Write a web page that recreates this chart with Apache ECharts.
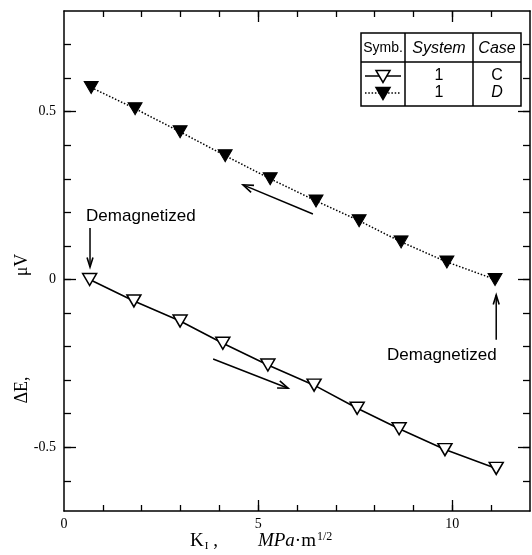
<!DOCTYPE html>
<html><head><meta charset="utf-8">
<script src="https://cdn.jsdelivr.net/npm/echarts@6/dist/echarts.min.js"></script>
<style>html,body{margin:0;padding:0;background:#fff}#c{width:532px;height:555px}</style>
</head><body><div id="c"></div>
<script>
// ---- data ----
const kC = [0.66, 1.80, 2.99, 4.09, 5.25, 6.44, 7.55, 8.63, 9.81, 11.13];
const dEC = [0, -0.064, -0.124, -0.19, -0.255, -0.315, -0.384, -0.445, -0.507, -0.563];
const kD = [0.70, 1.83, 2.99, 4.15, 5.31, 6.49, 7.60, 8.68, 9.86, 11.10];
const dED = [0.572, 0.509, 0.440, 0.369, 0.300, 0.234, 0.175, 0.112, 0.052, 0];
const xTickLabels = [0, 5, 10];
const xMinorTicks = [1, 2, 3, 4, 5, 6, 7, 8, 9, 10, 11];
const yTickLabels = [-0.5, 0, 0.5];
const yMinorTicks = [-0.6, -0.5, -0.4, -0.3, -0.2, -0.1, 0, 0.1, 0.2, 0.3, 0.4, 0.5, 0.6, 0.7];
const legendRows = [['1', 'C'], ['1', 'D']];
const legendHeader = ['Symb.', 'System', 'Case'];
const annotText = 'Demagnetized';

const chart = echarts.init(document.getElementById('c'), null, {renderer: 'canvas'});
const black = '#000';
const serif = '"Liberation Serif", "DejaVu Serif", serif';
const sans = '"Liberation Sans", Arial, sans-serif';
const XMIN = 0, XMAX = 12, YMIN = -0.69, YMAX = 0.8;

function xAx(pos, ticks, len, labels, line) {
  return {
    type: 'value', position: pos, min: XMIN, max: XMAX,
    axisLine: {show: line, onZero: false, lineStyle: {color: black, width: 1.5}},
    axisTick: {show: true, inside: true, length: len, customValues: ticks, lineStyle: {color: black, width: 1.3}},
    axisLabel: labels ? {show: true, customValues: labels, color: black, fontFamily: serif, fontSize: 14, margin: 6} : {show: false},
    splitLine: {show: false}
  };
}
function yAx(pos, ticks, len, labels, line) {
  return {
    type: 'value', position: pos, min: YMIN, max: YMAX,
    axisLine: {show: line, onZero: false, lineStyle: {color: black, width: 1.5}},
    axisTick: {show: true, inside: true, length: len, customValues: ticks, lineStyle: {color: black, width: 1.3}},
    axisLabel: labels ? {show: true, customValues: labels, color: black, fontFamily: serif, fontSize: 14, margin: 8,
      formatter: v => (Math.abs(v) < 1e-9 ? '0' : v.toFixed(1))} : {show: false},
    splitLine: {show: false}
  };
}

chart.setOption({
  animation: false,
  backgroundColor: '#fff',
  grid: {left: 64, right: 2, top: 11, bottom: 44},
  xAxis: [
    xAx('bottom', xMinorTicks, 6, xTickLabels, true),
    xAx('bottom', [5, 10], 11, null, false),
    xAx('top', xMinorTicks, 6, null, true),
    xAx('top', [5, 10], 11, null, false)
  ],
  yAxis: [
    yAx('left', yMinorTicks, 7, yTickLabels, true),
    yAx('left', yTickLabels, 12, null, false),
    yAx('right', yMinorTicks, 7, null, true),
    yAx('right', yTickLabels, 12, null, false)
  ],
  series: [
    {
      name: 'C', type: 'line', xAxisIndex: 0, yAxisIndex: 0,
      data: kC.map((x, i) => [x, dEC[i]]),
      symbol: 'triangle', symbolRotate: 180, symbolSize: [14, 12], showAllSymbol: true,
      itemStyle: {color: '#fff', borderColor: black, borderWidth: 1.5},
      lineStyle: {color: black, width: 1.6}, z: 5
    },
    {
      name: 'D', type: 'line', xAxisIndex: 0, yAxisIndex: 0,
      data: kD.map((x, i) => [x, dED[i]]),
      symbol: 'triangle', symbolRotate: 180, symbolSize: [14, 12], showAllSymbol: true,
      itemStyle: {color: black, borderColor: black, borderWidth: 1},
      lineStyle: {color: black, width: 1.5, type: [1.5, 1.8]}, z: 5
    }
  ]
});

// ---- annotations ----
const P = (x, y) => chart.convertToPixel({xAxisIndex: 0, yAxisIndex: 0}, [x, y]);
function arrow(tail, tip, headLen, ang) {
  const a = P(tail[0], tail[1]), b = P(tip[0], tip[1]);
  const th = Math.atan2(b[1] - a[1], b[0] - a[0]);
  const h1 = [b[0] - headLen * Math.cos(th - ang), b[1] - headLen * Math.sin(th - ang)];
  const h2 = [b[0] - headLen * Math.cos(th + ang), b[1] - headLen * Math.sin(th + ang)];
  return [
    {type: 'line', shape: {x1: a[0], y1: a[1], x2: b[0], y2: b[1]}, style: {stroke: black, lineWidth: 1.5}, z: 10},
    {type: 'polyline', shape: {points: [h1, b, h2]}, style: {stroke: black, lineWidth: 1.6, fill: null}, z: 10}
  ];
}
function label(txt, x, y) {
  const p = P(x, y);
  return {type: 'text', x: p[0], y: p[1], z: 10,
    style: {text: txt, font: '17px ' + sans, fill: black, align: 'center', verticalAlign: 'middle'}};
}
const g = [];
g.push(...arrow([0.67, 0.153], [0.67, 0.037], 10, 0.3));
g.push(label(annotText, 1.98, 0.187));
g.push(...arrow([11.13, -0.18], [11.13, -0.046], 10, 0.3));
g.push(label(annotText, 9.73, -0.225));
g.push(...arrow([6.41, 0.195], [4.61, 0.282], 11, 0.35));
g.push(...arrow([3.84, -0.237], [5.77, -0.324], 11, 0.35));

// ---- legend table ----
const Lx = [361, 405, 473, 521], Ly = [33, 62, 106];
const rowY = [76, 93];
g.push({type: 'rect', shape: {x: Lx[0], y: Ly[0], width: Lx[3] - Lx[0], height: Ly[2] - Ly[0]},
  style: {fill: '#fff', stroke: black, lineWidth: 1.5}, z: 20});
g.push({type: 'line', shape: {x1: Lx[0], y1: Ly[1], x2: Lx[3], y2: Ly[1]}, style: {stroke: black, lineWidth: 1.5}, z: 21});
g.push({type: 'line', shape: {x1: Lx[1], y1: Ly[0], x2: Lx[1], y2: Ly[2]}, style: {stroke: black, lineWidth: 1.5}, z: 21});
g.push({type: 'line', shape: {x1: Lx[2], y1: Ly[0], x2: Lx[2], y2: Ly[2]}, style: {stroke: black, lineWidth: 1.5}, z: 21});
const colC = [(Lx[0] + Lx[1]) / 2, (Lx[1] + Lx[2]) / 2, (Lx[2] + Lx[3]) / 2];
const headStyle = ['normal 14px ', 'italic 16px ', 'italic 16px '];
legendHeader.forEach((t, i) => g.push({type: 'text', x: colC[i], y: (Ly[0] + Ly[1]) / 2 + 1, z: 22,
  style: {text: t, font: headStyle[i] + sans, fill: black, align: 'center', verticalAlign: 'middle'}}));
legendRows.forEach((r, i) => {
  const y = rowY[i];
  g.push({type: 'line', shape: {x1: Lx[0] + 4, y1: y, x2: Lx[1] - 4, y2: y},
    style: {stroke: black, lineWidth: 1.5, lineDash: i === 0 ? null : [1.5, 1.8]}, z: 22});
  const cx = colC[0];
  g.push({type: 'polygon', shape: {points: [[cx - 7, y - 5.5], [cx + 7, y - 5.5], [cx, y + 6.5]]},
    style: {fill: i === 0 ? '#fff' : black, stroke: black, lineWidth: 1.5}, z: 23});
  g.push({type: 'text', x: colC[1], y: y, z: 22,
    style: {text: r[0], font: '16px ' + sans, fill: black, align: 'center', verticalAlign: 'middle'}});
  g.push({type: 'text', x: colC[2], y: y, z: 22,
    style: {text: r[1], font: (i === 0 ? 'normal' : 'italic') + ' 16px ' + sans, fill: black, align: 'center', verticalAlign: 'middle'}});
});

// ---- axis titles ----
g.push({type: 'text', x: 22, y: 390, rotation: Math.PI / 2, z: 10,
  style: {text: 'ΔE,', font: '18px ' + serif, fill: black, align: 'center', verticalAlign: 'middle'}});
g.push({type: 'text', x: 22, y: 265, rotation: Math.PI / 2, z: 10,
  style: {text: 'μV', font: '18px ' + serif, fill: black, align: 'center', verticalAlign: 'middle'}});
g.push({type: 'text', x: 190, y: 541, z: 10,
  style: {
    text: '{k|K}{s|I}{k| ,}{gap|}{u|MPa}{k|·m}{p|1/2}',
    verticalAlign: 'middle',
    rich: {
      k: {font: '19px ' + serif, fill: black},
      s: {font: '11px ' + serif, fill: black, verticalAlign: 'bottom', padding: [7, 0, 0, 1]},
      gap: {width: 40},
      u: {font: 'italic 19px ' + serif, fill: black},
      p: {font: '12px ' + serif, fill: black, verticalAlign: 'top', padding: [0, 0, 9, 1]}
    }
  }});

chart.setOption({graphic: {elements: g}});
</script>
</body></html>
